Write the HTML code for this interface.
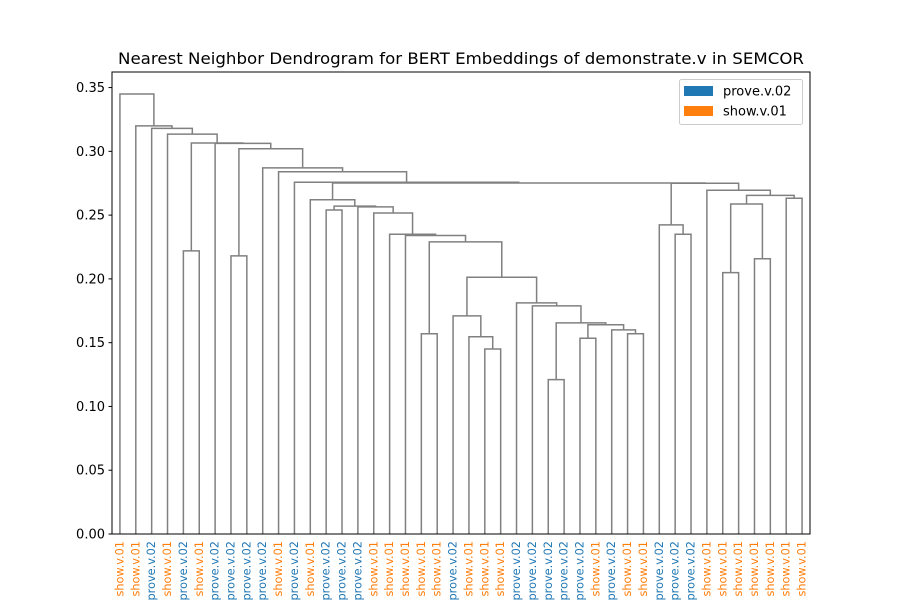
<!DOCTYPE html>
<html><head><meta charset="utf-8"><style>
body{margin:0;background:#fff}
svg{display:block;font-family:"DejaVu Sans","Liberation Sans",sans-serif}
</style></head><body>
<svg id="chart" width="900" height="600" viewBox="0 0 900 600" xmlns="http://www.w3.org/2000/svg">
<rect width="900" height="600" fill="#fff"/>
<text x="461" y="64" text-anchor="middle" font-size="16" textLength="686" lengthAdjust="spacingAndGlyphs">Nearest Neighbor Dendrogram for BERT Embeddings of demonstrate.v in SEMCOR</text>
<g id="links"></g>
<g id="yaxis"></g>
<g id="xlabels"></g>
<rect x="112" y="72" width="698" height="462" fill="none" stroke="#000" stroke-width="1"/>
<g>
<rect x="679.5" y="79.5" width="123" height="45" rx="2" fill="#fff" fill-opacity="0.8" stroke="#ccc"/>
<rect x="684" y="86" width="29" height="10" fill="#1f77b4"/>
<text x="723" y="95.5" font-size="13">prove.v.02</text>
<rect x="684" y="106" width="29" height="10" fill="#ff7f0e"/>
<text x="723" y="115.5" font-size="13">show.v.01</text>
</g>
</svg>
<script>
const leafLabels = ["show","show","prove","show","prove","show","prove","prove","prove","prove","show","prove","show","prove","prove","prove","show","show","show","show","show","prove","show","show","show","prove","prove","prove","prove","prove","show","prove","show","show","prove","prove","prove","show","show","show","show","show","show","show"];
const nodeLeft  = [4,7,13,19,23,22,21,27,29,32,31,52,51,26,25,50,47,18,17,16,15,46,12,35,34,38,40,69,42,71,37,68,66,11,10,9,45,6,44,3,2,1,0];
const nodeRight = [5,8,14,20,24,48,49,28,30,33,53,54,55,56,57,58,59,60,61,62,63,64,65,36,67,39,41,70,43,72,73,74,75,76,77,78,79,80,81,82,83,84,85];
const nodeHeight = [0.222,0.218,0.254,0.157,0.145,0.1546,0.171,0.121,0.1535,0.157,0.160,0.164,0.1655,0.1788,0.1812,0.2013,0.229,0.234,0.235,0.2517,0.2565,0.257,0.262,0.235,0.2423,0.2049,0.2158,0.2587,0.2632,0.2655,0.2695,0.2750,0.2752,0.2758,0.284,0.287,0.302,0.3062,0.3065,0.3135,0.318,0.320,0.345];
const yTicks = [0,0.05,0.10,0.15,0.20,0.25,0.30,0.35];
const yTickLabels = ["0.00","0.05","0.10","0.15","0.20","0.25","0.30","0.35"];

const NS="http://www.w3.org/2000/svg";
const X0=112,X1=810,Y0=534,YT=72;
const n=leafLabels.length;
const xs=i=>X0+(5+10*i)*(X1-X0)/(10*n);
const ymax=0.3622;
const ys=v=>Y0-v/ymax*(Y0-YT);
const nodeX=[],nodeY=[];
for(let i=0;i<n;i++){nodeX[i]=xs(i);nodeY[i]=ys(0);}
const links=document.getElementById('links');
for(let k=0;k<nodeLeft.length;k++){
  const a=nodeLeft[k],b=nodeRight[k],h=ys(nodeHeight[k]);
  const id=n+k;
  nodeX[id]=(nodeX[a]+nodeX[b])/2;nodeY[id]=h;
  const p=document.createElementNS(NS,'path');
  p.setAttribute('d',`M${nodeX[a]},${nodeY[a]}V${h}H${nodeX[b]}V${nodeY[b]}`);
  p.setAttribute('fill','none');p.setAttribute('stroke','#808080');p.setAttribute('stroke-width','1.5');
  
  
  links.appendChild(p);
}
const ya=document.getElementById('yaxis');
yTicks.forEach((v,i)=>{
  const y=ys(v);
  const l=document.createElementNS(NS,'line');
  l.setAttribute('x1',X0-3.5);l.setAttribute('x2',X0);l.setAttribute('y1',y);l.setAttribute('y2',y);l.setAttribute('stroke','#000');
  
  
  ya.appendChild(l);
  const t=document.createElementNS(NS,'text');
  t.setAttribute('x',X0-7);t.setAttribute('y',y+4.5);t.setAttribute('text-anchor','end');t.setAttribute('font-size','13');
  t.textContent=yTickLabels[i];
  
  
  ya.appendChild(t);
});
const xl=document.getElementById('xlabels');
leafLabels.forEach((lab,i)=>{
  const x=xs(i);
  const t=document.createElementNS(NS,'text');
  t.setAttribute('transform',`translate(${x+3.5},541) rotate(-90)`);
  t.setAttribute('text-anchor','end');t.setAttribute('font-size','11.3');
  t.setAttribute('fill',lab==='show'?'#ff7f0e':'#1f77b4');
  t.textContent=lab==='show'?'show.v.01':'prove.v.02';
  
  
  xl.appendChild(t);
});
</script>
</body></html>
